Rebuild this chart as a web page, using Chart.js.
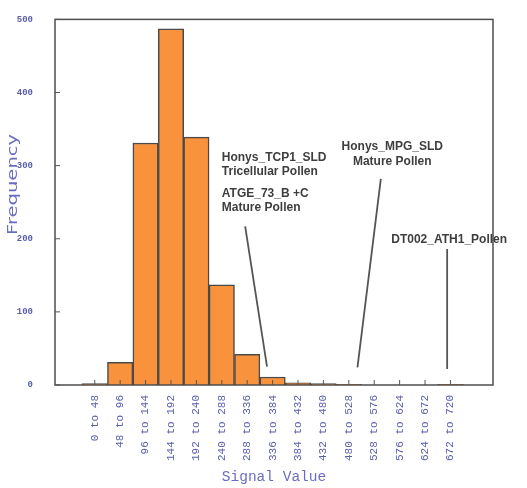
<!DOCTYPE html>
<html>
<head>
<meta charset="utf-8">
<script src="https://cdn.jsdelivr.net/npm/chart.js@4/dist/chart.umd.min.js"></script>
<style>
  html, body { margin: 0; padding: 0; background: #fff; }
  #wrap { width: 527px; height: 488px; }
</style>
</head>
<body>
<div id="wrap"><canvas id="histo"></canvas></div>
<script>
// histogram bins (signal value ranges) and counts
const binLabels = [
  "0 to 48", "48 to 96", "96 to 144", "144 to 192", "192 to 240",
  "240 to 288", "288 to 336", "336 to 384", "384 to 432", "432 to 480",
  "480 to 528", "528 to 576", "576 to 624", "624 to 672", "672 to 720"
];
const frequency = [2, 31, 331, 487, 339, 137, 42, 11, 3, 2, 1, 0, 0, 0, 1];
const yTickValues = [0, 100, 200, 300, 400, 500];

// callout texts
const noteTcp1 = ["Honys_TCP1_SLD", "Tricellular Pollen"];
const noteAtge = ["ATGE_73_B +C", "Mature Pollen"];
const noteMpg = ["Honys_MPG_SLD", "Mature Pollen"];
const noteDt = "DT002_ATH1_Pollen";

const tickBlue = "#5a5eab";

// box, inward ticks, y title and callouts
const extras = {
  id: "extras",
  afterDatasetsDraw(chart) {
    const { ctx, chartArea: a, scales: { x, y } } = chart;
    ctx.save();

    // frame round the plot
    ctx.strokeStyle = "#4d4d4d";
    ctx.lineWidth = 1.5;
    ctx.strokeRect(a.left, a.top, a.right - a.left, a.bottom - a.top);

    // short ticks pointing in
    ctx.lineWidth = 1;
    ctx.strokeStyle = "#555";
    ctx.beginPath();
    binLabels.forEach((_, i) => {
      const px = x.getPixelForValue(i);
      ctx.moveTo(px, a.bottom);
      ctx.lineTo(px, a.bottom - 5);
    });
    yTickValues.forEach(v => {
      const py = y.getPixelForValue(v);
      ctx.moveTo(a.left, py);
      ctx.lineTo(a.left + 5, py);
    });
    ctx.stroke();

    // y axis title, stretched a bit like the original
    ctx.save();
    ctx.translate(a.left - 42, a.top + 165);
    ctx.rotate(-Math.PI / 2);
    ctx.font = "14px 'DejaVu Sans'";
    const w = ctx.measureText("Frequency").width;
    ctx.scale(101 / w, 1);
    ctx.fillStyle = "#6a6ec0";
    ctx.textAlign = "center";
    ctx.textBaseline = "middle";
    ctx.fillText("Frequency", 0, 0);
    ctx.restore();

    // callouts, placed in bin / frequency units
    ctx.font = "bold 12px 'Liberation Sans'";
    ctx.fillStyle = "#3e3e3e";
    ctx.textBaseline = "middle";
    const txt = (t, bin, val) => ctx.fillText(t, x.getPixelForValue(bin), y.getPixelForValue(val));
    ctx.textAlign = "left";
    txt(noteTcp1[0], 5.0, 310.5);
    txt(noteTcp1[1], 5.0, 291.5);
    txt(noteAtge[0], 5.0, 262);
    txt(noteAtge[1], 5.0, 242);
    txt(noteDt, 11.67, 199);
    ctx.textAlign = "center";
    txt(noteMpg[0], 11.71, 325.5);
    txt(noteMpg[1], 11.71, 306);

    // pointer lines
    ctx.strokeStyle = "#555";
    ctx.lineWidth = 1.8;
    ctx.beginPath();
    const seg = (b0, v0, b1, v1) => {
      ctx.moveTo(x.getPixelForValue(b0), y.getPixelForValue(v0));
      ctx.lineTo(x.getPixelForValue(b1), y.getPixelForValue(v1));
    };
    seg(5.92, 217, 6.78, 25);
    seg(11.26, 282, 10.34, 24);
    seg(13.87, 186, 13.87, 22);
    ctx.stroke();

    ctx.restore();
  }
};

new Chart(document.getElementById("histo"), {
  type: "bar",
  data: {
    datasets: [{
      data: frequency.map((f, i) => ({ x: i, y: f })),
      backgroundColor: "#f8923d",
      borderColor: "#4a4a4a",
      borderWidth: 1.5,
      categoryPercentage: 1,
      barPercentage: 1
    }]
  },
  options: {
    responsive: true,
    maintainAspectRatio: false,
    animation: false,
    layout: { padding: { top: 13, right: 34, left: 0, bottom: 0 } },
    plugins: { legend: { display: false }, tooltip: { enabled: false } },
    scales: {
      x: {
        type: "linear",
        min: -0.99,
        max: 15.1,
        grid: { display: false },
        border: { display: false },
        afterBuildTicks: s => { s.ticks = binLabels.map((_, i) => ({ value: i })); },
        afterFit: s => { s.height = 103; },
        ticks: {
          autoSkip: false,
          minRotation: 90,
          maxRotation: 90,
          padding: 2,
          color: tickBlue,
          font: { family: "'Liberation Mono'", size: 11 },
          callback: v => binLabels[v] ?? ""
        },
        title: {
          display: true,
          text: "Signal Value",
          color: "#6a6ec0",
          font: { family: "'Liberation Mono'", size: 14.5 },
          padding: { top: 0, bottom: 2 }
        }
      },
      y: {
        min: 0,
        max: 500,
        grid: { display: false },
        border: { display: false },
        afterFit: s => { s.width = 55; },
        ticks: {
          stepSize: 100,
          padding: 14,
          color: tickBlue,
          font: { family: "'Liberation Mono'", size: 9, weight: "bold" }
        }
      }
    }
  },
  plugins: [extras]
});
</script>
</body>
</html>
